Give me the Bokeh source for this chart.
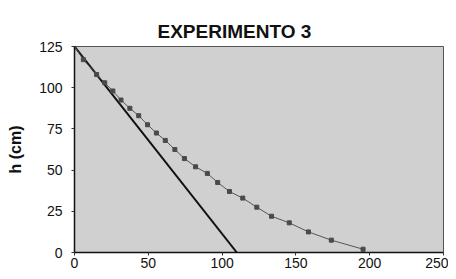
from bokeh.plotting import figure
from bokeh.models import Range1d, FixedTicker
from bokeh.embed import file_html
from bokeh.resources import INLINE

# Theoretical (straight) line
teor_x = [0, 110]
teor_h = [125, 0]

# Experimental points
exp_x = [0, 6, 15, 20.5, 26, 31.5, 37.5, 43.5, 49.5, 55.5, 61.5, 68, 74.5, 82,
         90, 97, 105, 114, 123.5, 133.5, 145.5, 158.5, 174, 195.5]
exp_h = [125, 117, 108, 103, 98, 92.5, 87.5, 83, 77.5, 72.5, 68, 62.5, 57, 52,
         48, 42.5, 37, 33, 27.5, 22, 18, 12.5, 7.5, 2]

x_ticks = [0, 50, 100, 150, 200, 250]
y_ticks = [0, 25, 50, 75, 100, 125]

FONT = "Liberation Sans"

p = figure(width=448, height=271, output_backend="svg", toolbar_location=None,
           x_range=Range1d(0, 250), y_range=Range1d(0, 125),
           title="EXPERIMENTO 3")
p.min_border_left = 74
p.min_border_right = 5
p.min_border_top = 46
p.min_border_bottom = 19

p.title.align = "left"
p.title.offset = 83
p.title.text_font = FONT
p.title.text_font_size = "19px"
p.title.text_font_style = "bold"
p.title.text_color = "#111111"

p.background_fill_color = "#d0d0d0"
p.border_fill_color = "white"
p.outline_line_color = "#555555"
p.outline_line_width = 1
p.xgrid.visible = False
p.ygrid.visible = False

for ax in (p.xaxis[0], p.yaxis[0]):
    ax.axis_line_color = "#111111"
    ax.axis_line_width = 1.5
    ax.major_tick_line_color = "#333333"
    ax.major_tick_in = 0
    ax.major_tick_out = 3
    ax.minor_tick_line_color = None
    ax.major_label_text_font = FONT
    ax.major_label_text_font_size = "14px"
    ax.major_label_text_color = "#111111"

p.xaxis[0].ticker = FixedTicker(ticks=x_ticks)
p.yaxis[0].ticker = FixedTicker(ticks=y_ticks)
p.xaxis[0].major_label_standoff = 2
p.yaxis[0].major_label_standoff = 9

p.yaxis[0].axis_label = "h (cm)"
p.yaxis[0].axis_label_text_font = FONT
p.yaxis[0].axis_label_text_font_size = "16px"
p.yaxis[0].axis_label_text_font_style = "bold"
p.yaxis[0].axis_label_text_color = "#111111"
p.yaxis[0].axis_label_standoff = 12

p.line(teor_x, teor_h, line_color="#111111", line_width=2)
p.line(exp_x, exp_h, line_color="#555555", line_width=1)
p.scatter(exp_x[1:], exp_h[1:], marker="square", size=4,
          fill_color="#4a4a4a", line_color="#4a4a4a")

open("out.html", "w").write(file_html(p, INLINE))
